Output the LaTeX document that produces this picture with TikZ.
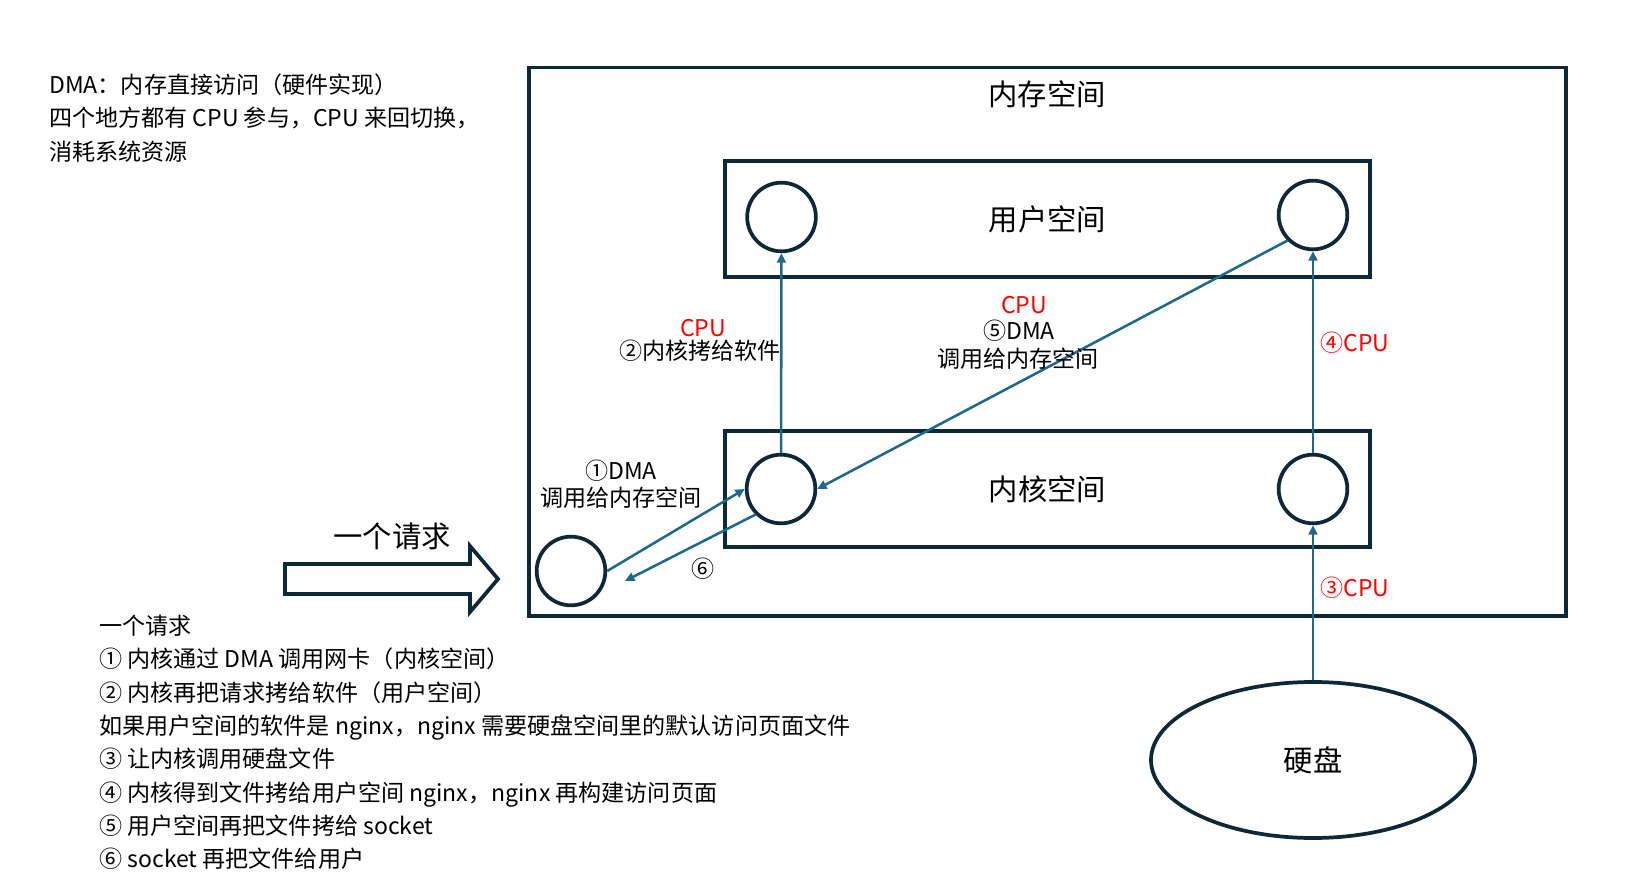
\documentclass[tikz,border=0pt]{standalone}
\usepackage{fontspec}
\setmainfont{Noto Sans CJK SC}
\usetikzlibrary{arrows.meta,shapes.geometric}
\definecolor{navy}{RGB}{14,40,54}
\definecolor{tealline}{RGB}{32,104,138}
\definecolor{cpured}{RGB}{255,0,0}
\begin{document}
\begin{tikzpicture}[x=0.75pt,y=-0.75pt,
  box/.style={rectangle,draw=navy,line width=2.8pt,inner sep=0pt},
  circ/.style={circle,draw=navy,line width=2.8pt,minimum size=51.5pt,inner sep=0pt},
  disk/.style={ellipse,draw=navy,line width=2.8pt,minimum width=243pt,minimum height=117pt,inner sep=0pt},
  conn/.style={draw=tealline,line width=1.9pt,-{Triangle[length=7pt,width=6.5pt]}},
  lbl/.style={font=\fontsize{17.3}{20}\selectfont,inner sep=0pt,text=black},
  cpulbl/.style={font=\fontsize{17.3}{20}\selectfont,inner sep=0pt,text=cpured},
  big/.style={font=\fontsize{22}{26}\selectfont,inner sep=0pt,text=black},
  line/.style={lbl,anchor=base west}]
\useasboundingbox (0,0) rectangle (1634,887);

% memory space frame
\node[box,minimum width=777.75pt,minimum height=411.4pt] (mem) at (1047.5,341.75) {};
\node[big] (memt) at (1047,94) {内存空间};

% user / kernel boxes
\node[box,big,minimum width=483.75pt,minimum height=87.4pt] (user) at (1047.5,219) {用户空间};
\node[box,big,minimum width=483.75pt,minimum height=87pt] (kernel) at (1047.5,489) {内核空间};

% circles
\node[circ] (userL) at (781.5,217) {};
\node[circ] (userR) at (1313,215) {};
\node[circ] (kernL) at (781,489) {};
\node[circ] (kernR) at (1313,489) {};
\node[circ] (net) at (571,571) {};

% disk
\node[disk,big] (disk) at (1313,760) {硬盘};

% request arrow
\draw[navy,line width=2.8pt,line join=miter] (285,564) -- (470,564) -- (470,546) -- (498,579) -- (470,612) -- (470,594) -- (285,594) -- cycle;
\node[big] (req) at (392,536) {一个请求};

% connectors
\coordinate (end6) at (625,581);
\draw[conn] (kernL) -- (userL);
\draw[conn] (kernR) -- (userR);
\draw[conn] (disk) -- (kernR);
\draw[conn] (userR.225) -- (kernL.east);
\draw[conn] (net.east) -- (kernL.west);
\draw[conn] (kernL.225) -- (end6);

% connector labels
\node[cpulbl] (c2) at (703,328) {CPU};
\node[lbl] (l2) at (700,351) {②内核拷给软件};
\node[cpulbl] (c5) at (1024,305) {CPU};
\node[lbl] (l5a) at (1019,331) {⑤DMA};
\node[lbl] (l5b) at (1018,359) {调用给内存空间};
\node[cpulbl] (c4) at (1355,343) {④CPU};
\node[cpulbl] (c3) at (1355,588) {③CPU};
\node[lbl] (l1a) at (621,471) {①DMA};
\node[lbl] (l1b) at (621,498) {调用给内存空间};
\node[lbl] (l6) at (703,569) {⑥};

% notes top-left
\node[line] (t1) at (49,93.5) {DMA：内存直接访问（硬件实现）};
\node[line] (t2) at (49,127) {四个地方都有 CPU 参与，CPU 来回切换，};
\node[line] (t3) at (49,161) {消耗系统资源};

% notes bottom
\node[line] (b1) at (99,634) {一个请求};
\node[line] (b2) at (99,667.6) {① 内核通过 DMA 调用网卡（内核空间）};
\node[line] (b3) at (99,701) {② 内核再把请求拷给软件（用户空间）};
\node[line] (b4) at (99,734) {如果用户空间的软件是 nginx，nginx 需要硬盘空间里的默认访问页面文件};
\node[line] (b5) at (99,767.6) {③ 让内核调用硬盘文件};
\node[line] (b6) at (99,801) {④ 内核得到文件拷给用户空间 nginx，nginx 再构建访问页面};
\node[line] (b7) at (99,834) {⑤ 用户空间再把文件拷给 socket};
\node[line] (b8) at (99,867.7) {⑥ socket 再把文件给用户};
\end{tikzpicture}
\end{document}
